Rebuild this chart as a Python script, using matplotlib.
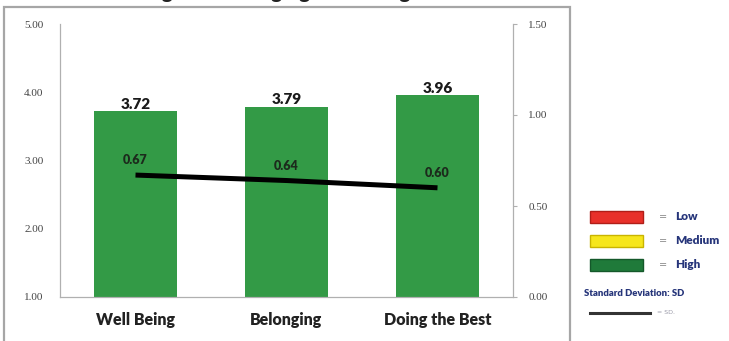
import matplotlib.pyplot as plt
from matplotlib.patches import Rectangle
from matplotlib.lines import Line2D

categories = ["Well Being", "Belonging", "Doing the Best"]
means = [3.72, 3.79, 3.96]
sd = [0.67, 0.64, 0.60]
left_ticks = [1.0, 2.0, 3.0, 4.0, 5.0]
right_ticks = [0.0, 0.5, 1.0, 1.5]
legend_levels = ["Low", "Medium", "High"]
legend_colors = ["#e8302a", "#f6e61c", "#1f7a3a"]
legend_edges = ["#b01e18", "#c9b400", "#14582a"]

W, H = 729, 341
fig = plt.figure(figsize=(W / 100, H / 100), dpi=100)


def fx(px):
    return px / W


def fy(py):
    return 1 - py / H


# outer frame of the chart area (runs off the bottom edge)
fig.patches.append(Rectangle((fx(4), fy(360)), fx(566), (360 - 7) / H,
                             transform=fig.transFigure, fill=False,
                             edgecolor="#a6a6a6", lw=1.6))

# title sits mostly above the visible area
fig.text(fx(282), fy(0) + 1.8 / H, "Well Being and Belonging and Doing the Best",
         ha="center", va="baseline", fontsize=15, fontweight="bold",
         family="Lato", color="#222222")

ax = fig.add_axes([fx(60), fy(297), fx(453), (297 - 24) / H])
x = list(range(len(categories)))
bars = ax.bar(x, means, width=0.556, bottom=0, color="#339a46", zorder=2)
ax.set_xlim(-0.5, 2.5)
ax.set_ylim(1, 5)
ax.set_yticks(left_ticks)
ax.set_yticklabels([f"{v:.2f}" for v in left_ticks], fontsize=8,
                   color="#444444", family="Liberation Serif")
ax.set_xticks(x)
ax.set_xticklabels(categories, fontsize=11.5, fontweight="heavy",
                   family="Lato", color="#222222")
ax.tick_params(axis="y", length=0, pad=12)
ax.tick_params(axis="x", length=0, pad=11)
for s in ["left", "right", "bottom"]:
    ax.spines[s].set_color("#b0b0b0")
ax.spines["top"].set_visible(False)

for xi, m in zip(x, means):
    ax.annotate(f"{m:.2f}", (xi, m), xytext=(0, 5), textcoords="offset points",
                ha="center", va="center", fontsize=11, fontweight="heavy",
                family="Lato", color="#1a1a1a", zorder=4)

ax2 = ax.twinx()
ax2.set_ylim(0, 1.5)
ax2.set_yticks(right_ticks)
ax2.set_yticklabels([f"{v:.2f}" for v in right_ticks], fontsize=8,
                    color="#444444", family="Liberation Serif")
ax2.tick_params(axis="y", length=3, color="#b0b0b0", pad=8)
for s in ["left", "right", "bottom"]:
    ax2.spines[s].set_color("#b0b0b0")
ax2.spines["top"].set_visible(False)

ax2.plot(x, sd, color="black", lw=3.6, solid_capstyle="butt", zorder=3)
for xi, v in zip(x, sd):
    ax2.annotate(f"{v:.2f}", (xi, v), xytext=(0, 10.5), textcoords="offset points",
                 ha="center", va="center", fontsize=9, fontweight="heavy",
                 family="Lato", color="#1c2a1c")

# legend drawn by hand on the right
navy = "#26357a"
rows_y = [217, 241, 265]
for lvl, c, ec, ry in zip(legend_levels, legend_colors, legend_edges, rows_y):
    fig.patches.append(Rectangle((fx(590), fy(ry + 6)), fx(53), 12 / H,
                                 transform=fig.transFigure, facecolor=c,
                                 edgecolor=ec, lw=1))
    fig.text(fx(659), fy(ry), "=", ha="left", va="center", fontsize=7,
             color="#888888")
    fig.text(fx(675), fy(ry), lvl, ha="left", va="center", fontsize=8.5,
             fontweight="heavy", color=navy, family="Lato")

fig.text(fx(584), fy(293), "Standard Deviation: SD", ha="left", va="center",
         fontsize=6.8, fontweight="heavy", color=navy, family="Lato")
fig.lines.append(Line2D([fx(590), fx(650)], [fy(313), fy(313)],
                        transform=fig.transFigure, color="#333333", lw=2.2))
fig.text(fx(657), fy(313), "= SD.", ha="left", va="center", fontsize=4.5,
         color="#9a9aa8")

fig.savefig("out.png", dpi=100)
